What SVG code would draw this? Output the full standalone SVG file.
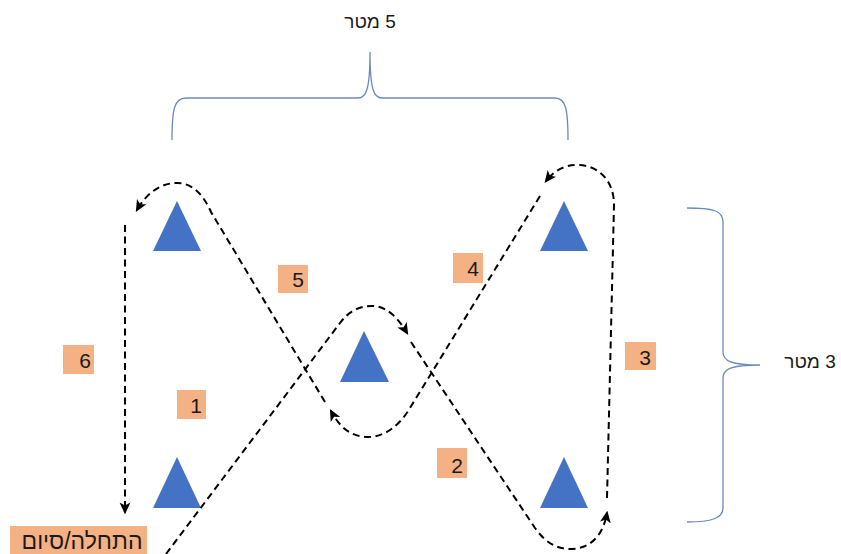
<svg xmlns="http://www.w3.org/2000/svg" width="841" height="554" viewBox="0 0 841 554">
<style>
.cone{fill:#4472C4;}
.brace{fill:none;stroke:#6A8BBA;stroke-width:1.3;}
.path{fill:none;stroke:#000;stroke-width:2;stroke-dasharray:7 4.5;}
.box{fill:#F4B183;}
.num{font-family:"Liberation Sans","DejaVu Sans",sans-serif;font-size:21px;fill:#1a1a1a;text-anchor:end;}
.lbl{font-family:"Liberation Sans","DejaVu Sans",sans-serif;fill:#1a1a1a;text-anchor:middle;direction:rtl;}
</style>
<defs>
<marker id="ah" markerUnits="userSpaceOnUse" markerWidth="12" markerHeight="12" viewBox="0 0 10 10" refX="8" refY="5" orient="auto">
<path d="M0,0.5 L10,5 L0,9.5 L2.5,5 Z" fill="#000"/>
</marker>
</defs>
<rect width="841" height="554" fill="#fff"/>

<g id="brace-top">
<path class="brace" d="M172,140 C172,110 174,98 186,98 L358,98 C366,98 370,90 370,52 C370,90 374,98 382,98 L555,98 C566,98 568,110 568,140"/>
<text class="lbl" x="370" y="28" font-size="19">5 מטר</text>
</g>
<g id="brace-right">
<path class="brace" d="M687,208 C712,208 723,210 723,222 L723,352 C723,361 731,365 760,365 C731,365 723,369 723,378 L723,508 C723,518 712,522 687,522"/>
<text class="lbl" x="810" y="368" font-size="19">3 מטר</text>
</g>

<g id="cone-tl"><polygon class="cone" points="177,201 153,251 201,251"/></g>
<g id="cone-tr"><polygon class="cone" points="564,201 540,251 588,251"/></g>
<g id="cone-c"><polygon class="cone" points="364,331 340,382 389,382"/></g>
<g id="cone-bl"><polygon class="cone" points="177,457 153,508 201,508"/></g>
<g id="cone-br"><polygon class="cone" points="564,457 540,508 588,508"/></g>

<g id="connectors">
<path class="path" marker-end="url(#ah)" d="M166,554 L340,323 C349,311 359,306 372,306 C387,306 398,318 407,333"/>
<path class="path" marker-end="url(#ah)" d="M411,342 L535,528 C545,542 556,549 570,549 C590,549 603,536 607,513"/>
<path class="path" marker-end="url(#ah)" d="M607,498 L614,205 C614,180 598,165 577,165 C563,165 553,172 546,181"/>
<path class="path" marker-end="url(#ah)" d="M540,196 L410,408 C400,425 385,437 368,437 C350,437 339,426 331,411"/>
<path class="path" marker-end="url(#ah)" d="M325,402 L211,212 C203,194 192,183 177,183 C160,183 146,194 137,210"/>
<path class="path" marker-end="url(#ah)" d="M125,225 L125,512"/>
</g>

<g id="label-1"><rect class="box" x="177" y="390" width="29" height="29"/><text class="num" x="202" y="413">1</text></g>
<g id="label-2"><rect class="box" x="437" y="448" width="30" height="30"/><text class="num" x="463" y="473">2</text></g>
<g id="label-3"><rect class="box" x="625" y="342" width="31" height="28"/><text class="num" x="651" y="365">3</text></g>
<g id="label-4"><rect class="box" x="453" y="253" width="30" height="30"/><text class="num" x="479" y="276">4</text></g>
<g id="label-5"><rect class="box" x="278" y="265" width="30" height="28"/><text class="num" x="304" y="287">5</text></g>
<g id="label-6"><rect class="box" x="63" y="345" width="31" height="29"/><text class="num" x="91" y="368">6</text></g>
<g id="label-start"><rect class="box" x="10" y="526" width="137" height="28"/><text class="lbl" x="82" y="549" font-size="23">התחלה/סיום</text></g>
</svg>
